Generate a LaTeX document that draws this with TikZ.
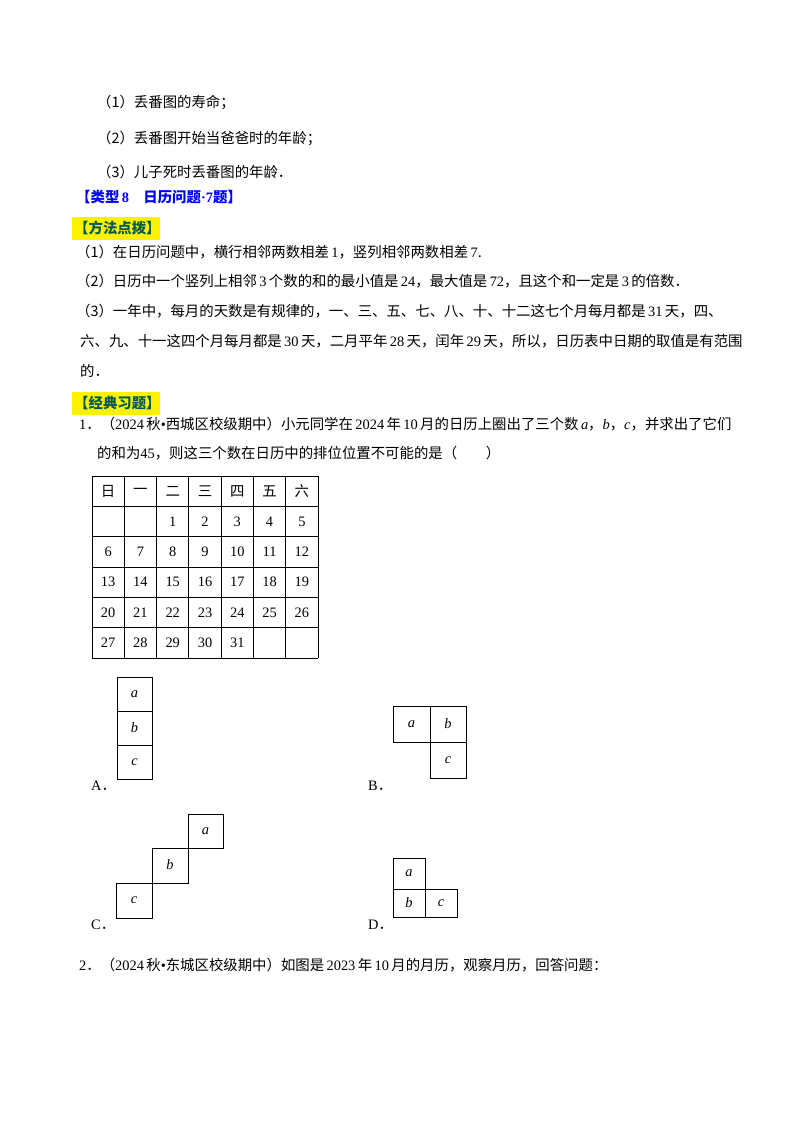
\documentclass[tikz,border=0pt]{standalone}
\usepackage{fontspec}
\setmainfont{Liberation Serif}
\newfontfamily\cjk{Noto Sans CJK SC}
\newcommand{\dt}{{\cjk ．}}
\begin{document}
\begin{tikzpicture}[x=1pt,y=-1pt,
  t/.style={anchor=west,inner sep=0pt,font=\fontsize{14.4}{18}\selectfont\cjk},
  c/.style={inner sep=0pt,font=\fontsize{14.4}{18}\selectfont},
  g/.style={line width=0.9pt}]
\useasboundingbox (0,0) rectangle (800,1132);
\node[t] (l1) at (97,102) {（1）丢番图的寿命；};
\node[t] (l2) at (97,138) {（2）丢番图开始当爸爸时的年龄；};
\node[t] (l3) at (97,172) {（3）儿子死时丢番图的年龄．};
\node[t,text=blue,font=\fontsize{14.4}{18}\selectfont\cjk\bfseries] (h) at (76,197) {【类型\,{\rmfamily\bfseries 8}\quad 日历问题{\rmfamily\bfseries ·7}题】};
\fill[yellow] (72,217) rectangle (160,240);
\node[t,text=teal!70!black,font=\fontsize{14.4}{18}\selectfont\cjk\bfseries] (m) at (74,228) {【方法点拨】};
\node[t] (p1) at (76,252) {（1）在日历问题中，横行相邻两数相差{\rmfamily\,1}，竖列相邻两数相差{\rmfamily\,7}.};
\node[t] (p2) at (76,281) {（2）日历中一个竖列上相邻{\rmfamily\,3\,}个数的和的最小值是{\rmfamily\,24}，最大值是{\rmfamily\,72}，且这个和一定是{\rmfamily\,3\,}的倍数．};
\node[t] (p3) at (76,311) {（3）一年中，每月的天数是有规律的，一、三、五、七、八、十、十二这七个月每月都是{\rmfamily\,31\,}天，四、};
\node[t] (p4) at (80,341) {六、九、十一这四个月每月都是{\rmfamily\,30\,}天，二月平年{\rmfamily\,28\,}天，闰年{\rmfamily\,29\,}天，所以，日历表中日期的取值是有范围};
\node[t] (p5) at (80,371) {的．};
\fill[yellow] (72,392) rectangle (160,415);
\node[t,text=teal!70!black,font=\fontsize{14.4}{18}\selectfont\cjk\bfseries] (j) at (74,403) {【经典习题】};
\node[t] (q1) at (79,424) {{\rmfamily 1}．（{\rmfamily 2024\,}秋{\rmfamily •}西城区校级期中）小元同学在{\rmfamily\,2024\,}年{\rmfamily\,10\,}月的日历上圈出了三个数{\rmfamily\itshape\,a}，{\rmfamily\itshape b}，{\rmfamily\itshape c}，并求出了它们};
\node[t] (q1b) at (97,453) {的和为{\rmfamily 45}，则这三个数在日历中的排位位置不可能的是（\qquad）};
% calendar
\def\cw{32.29}\def\ch{30.33}
\foreach \i in {0,...,7} \draw[g] ({92+\cw*\i},476) -- ({92+\cw*\i},658);
\foreach \j in {0,...,6} \draw[g] (92,{476+\ch*\j}) -- (318,{476+\ch*\j});
\foreach \s [count=\i from 0] in {日,一,二,三,四,五,六}
  \node[c,font=\fontsize{14.4}{18}\selectfont\cjk] (w\i) at ({92+\cw*(\i+0.5)},{476+\ch*0.5}) {\s};
\foreach \d in {1,...,31}{
  \pgfmathtruncatemacro\cc{mod(\d+1,7)}
  \pgfmathtruncatemacro\rr{div(\d+1,7)+1}
  \node[c] (d\d) at ({92+\cw*(\cc+0.5)},{476+\ch*(\rr+0.5)}) {\d};}
% A
\draw[g] (117,677) rectangle (152,711) (117,711) rectangle (152,745) (117,745) rectangle (152,779);
\node[c] (Aa) at (134.5,694) {\itshape a};
\node[c] (Ab) at (134.5,728) {\itshape b};
\node[c] (Ac) at (134.5,762) {\itshape c};
\node[t,font=\fontsize{14.4}{18}\selectfont] (A) at (91,786) {A\dt};
% B
\draw[g] (393,706) rectangle (430,742) (430,706) rectangle (466,742) (430,742) rectangle (466,778);
\node[c] (Ba) at (411.5,724) {\itshape a};
\node[c] (Bb) at (448,724) {\itshape b};
\node[c] (Bc) at (448,760) {\itshape c};
\node[t,font=\fontsize{14.4}{18}\selectfont] (B) at (368,786) {B\dt};
% C
\draw[g] (116,883) rectangle (152,918) (152,848) rectangle (188,883) (188,814) rectangle (223,848);
\node[c] (Cc) at (134,900) {\itshape c};
\node[c] (Cb) at (170,865) {\itshape b};
\node[c] (Ca) at (205.5,831) {\itshape a};
\node[t,font=\fontsize{14.4}{18}\selectfont] (C) at (91,925) {C\dt};
% D
\draw[g] (393,858) rectangle (425,889) (393,889) rectangle (425,917) (425,889) rectangle (457,917);
\node[c] (Da) at (409,873.5) {\itshape a};
\node[c] (Db) at (409,903) {\itshape b};
\node[c] (Dc) at (441,903) {\itshape c};
\node[t,font=\fontsize{14.4}{18}\selectfont] (D) at (368,925) {D\dt};
\node[t] (q2) at (79,965) {{\rmfamily 2}．（{\rmfamily 2024\,}秋{\rmfamily •}东城区校级期中）如图是{\rmfamily\,2023\,}年{\rmfamily\,10\,}月的月历，观察月历，回答问题：};
\end{tikzpicture}
\end{document}
